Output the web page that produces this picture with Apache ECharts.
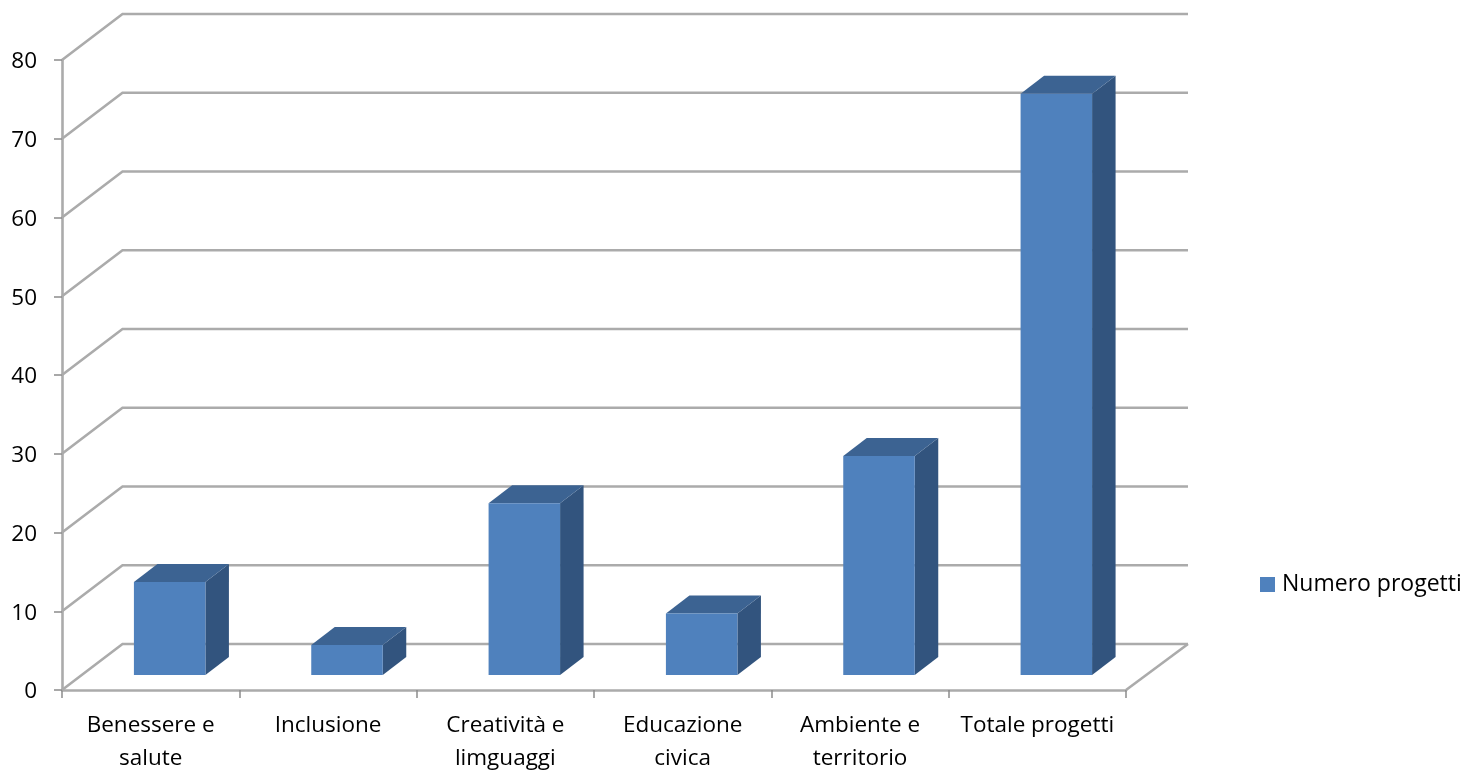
<!DOCTYPE html>
<html>
<head>
<meta charset="utf-8">
<style>html,body{margin:0;padding:0;background:#fff}#c{width:1480px;height:771px}</style>
<script src="https://cdn.jsdelivr.net/npm/echarts@6/dist/echarts.min.js"></script>
</head>
<body>
<div id="c"></div>
<script>
const categories = ['Benessere e\nsalute', 'Inclusione', 'Creatività e\nlimguaggi', 'Educazione\ncivica', 'Ambiente e\nterritorio', 'Totale progetti'];
const values = [12, 4, 22, 8, 28, 74];
const wallTicks = [0, 10, 20, 30, 40, 50, 60, 70, 80];
const seriesName = 'Numero progetti';

const FONT = '"Open Sans", "Noto Sans", sans-serif';
const DEPTH_X = 60.5, DEPTH_Y = 46;
const GRID_COLOR = '#ABABAB';

const chart = echarts.init(document.getElementById('c'), null, {renderer: 'canvas'});

function renderWall(params, api) {
  const cs = params.coordSys;
  const v = api.value(0);
  const y = api.coord([0, v])[1];
  const left = cs.x, right = cs.x + cs.width;
  const children = [{
    type: 'polyline',
    shape: {points: [[left, y], [left + DEPTH_X, y - DEPTH_Y], [right + 62, y - DEPTH_Y]]},
    style: {fill: 'none', stroke: GRID_COLOR, lineWidth: 2.6}
  }];
  if (v === 0) {
    children.push({
      type: 'line',
      shape: {x1: right, y1: y, x2: right + 62, y2: y - DEPTH_Y},
      style: {stroke: GRID_COLOR, lineWidth: 2.6}
    });
  }
  return {type: 'group', children};
}

function renderBar(params, api) {
  const idx = api.value(0);
  const c = api.coord([idx, api.value(1)]);
  const zero = api.coord([idx, 0]);
  const w = 71.5, dx = 23.5, dy = 18;
  const x0 = c[0] + 19 - w / 2, x1 = x0 + w;
  const top = c[1] - 13.5, base = zero[1] - 15;
  return {type: 'group', children: [
    {type: 'polygon', shape: {points: [[x1, top], [x1 + dx, top - dy], [x1 + dx, base - dy], [x1, base]]},
     style: {fill: '#32547E'}},
    {type: 'polygon', shape: {points: [[x0, top], [x0 + dx, top - dy], [x1 + dx, top - dy], [x1, top]]},
     style: {fill: '#3C6392'}},
    {type: 'rect', shape: {x: x0, y: top, width: w, height: base - top},
     style: {fill: '#4F81BD'}}
  ]};
}

chart.setOption({
  animation: false,
  backgroundColor: '#fff',
  grid: {left: 62, top: 60, width: 1064, height: 630, containLabel: false, outerBoundsMode: 'none'},
  legend: {
    data: [seriesName], left: 1255, top: 568, orient: 'vertical',
    icon: 'rect', itemWidth: 15, itemHeight: 15, itemGap: 0,
    textStyle: {fontFamily: FONT, fontSize: 23, color: '#000', padding: [2, 0, 0, 2]}
  },
  xAxis: {
    type: 'category', data: categories, boundaryGap: true,
    axisLine: {lineStyle: {color: GRID_COLOR, width: 2.6}},
    axisTick: {show: true, length: 8, lineStyle: {color: '#8C8C8C', width: 1.5}},
    axisLabel: {fontFamily: FONT, fontSize: 22.5, color: '#000', margin: 19, lineHeight: 33, interval: 0},
    splitLine: {show: false}
  },
  yAxis: {
    type: 'value', min: 0, max: 80, interval: 10,
    axisLine: {show: true, lineStyle: {color: GRID_COLOR, width: 2.6}},
    axisTick: {show: true, length: 8, lineStyle: {color: '#8C8C8C', width: 1.5}},
    axisLabel: {fontFamily: FONT, fontSize: 22.5, color: '#000', margin: 25, lineHeight: 24, verticalAlign: 'top', padding: [-10, 0, 0, 0]},
    splitLine: {show: false}
  },
  series: [
    {type: 'custom', name: 'walls', silent: true, clip: false, z: 1,
     data: wallTicks.map(v => [v]), encode: {y: 0}, renderItem: renderWall},
    {type: 'custom', name: seriesName, clip: false, z: 2,
     itemStyle: {color: '#4F81BD'},
     data: values.map((v, i) => [i, v]), encode: {x: 0, y: 1}, renderItem: renderBar}
  ]
});
</script>
</body>
</html>
